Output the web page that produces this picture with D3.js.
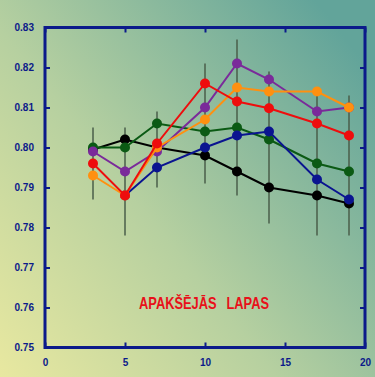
<!DOCTYPE html>
<html><head><meta charset="utf-8">
<script src="https://cdn.jsdelivr.net/npm/d3@7"></script>
<style>
html,body{margin:0;padding:0;overflow:hidden;}
svg{display:block;}
</style></head>
<body>
<script>
const days = [3, 5, 7, 10, 12, 14, 17, 19];
const blackVals  = [0.7995, 0.802, 0.800, 0.798, 0.794, 0.790, 0.788, 0.786];
const greenVals  = [0.800, 0.800, 0.806, 0.804, 0.805, 0.802, 0.796, 0.794];
const blueVals   = [null, 0.788, 0.795, 0.800, 0.803, 0.804, 0.792, 0.787];
const purpleVals = [0.799, 0.794, 0.799, 0.810, 0.821, 0.817, 0.809, 0.810];
const orangeVals = [0.793, 0.788, 0.800, 0.807, 0.815, 0.814, 0.814, 0.810];
const redVals    = [0.796, 0.788, 0.801, 0.816, 0.8115, 0.8098, 0.806, 0.803];
const errLow  = [0.787, 0.778, 0.790, 0.791, 0.788, 0.781, 0.778, 0.778];
const errHigh = [0.805, 0.805, 0.809, 0.821, 0.827, 0.819, 0.815, 0.813];
const xTicks = [0, 5, 10, 15, 20];
const yTicks = [0.75, 0.76, 0.77, 0.78, 0.79, 0.80, 0.81, 0.82, 0.83];
const seriesNames = ["black", "green", "blue", "purple", "orange", "red"];
const seriesColors = ["#000000", "#0b5a14", "#0a1490", "#7a2a9a", "#ff9010", "#ee0d0d"];
const seriesValues = [blackVals, greenVals, blueVals, purpleVals, orangeVals, redVals];
const titleWords = ["APAKŠĒJĀS", "LAPAS"];

(function () {
const W = 375, H = 377;
const m = {l: 45, r: 10, t: 27.5, b: 29.5};
const svg = d3.select("body").append("svg").attr("width", W).attr("height", H);
const defs = svg.append("defs");
const g = defs.append("linearGradient").attr("id", "bg")
  .attr("x1", "0").attr("y1", "1").attr("x2", "1").attr("y2", "0.2");
g.append("stop").attr("offset", "0").attr("stop-color", "#e8e8a0");
g.append("stop").attr("offset", "0.45").attr("stop-color", "#b6d0a0");
g.append("stop").attr("offset", "1").attr("stop-color", "#62a49a");
svg.append("rect").attr("width", W).attr("height", H).attr("fill", "url(#bg)");

const x = d3.scaleLinear().domain([0, 20]).range([m.l, W - m.r]);
const y = d3.scaleLinear().domain([0.75, 0.83]).range([H - m.b, m.t]);

const navy = "#0b1a8a";
// error bars
svg.append("g").selectAll("line").data(days).join("line")
  .attr("x1", d => x(d)).attr("x2", d => x(d))
  .attr("y1", (d, i) => y(errLow[i])).attr("y2", (d, i) => y(errHigh[i]))
  .attr("stroke", "#4a5e4a").attr("stroke-opacity", 0.75).attr("stroke-width", 2);

// axes (inward ticks)
const fmtX = d3.format("d"), fmtY = d3.format(".2f");
const axB = svg.append("g").attr("transform", `translate(0,${H - m.b})`)
  .call(d3.axisBottom(x).tickValues(xTicks).tickSize(-5).tickPadding(11).tickFormat(fmtX));
const axT = svg.append("g").attr("transform", `translate(0,${m.t})`)
  .call(d3.axisTop(x).tickValues(xTicks).tickSize(-5).tickFormat(""));
const axL = svg.append("g").attr("transform", `translate(${m.l},0)`)
  .call(d3.axisLeft(y).tickValues(yTicks).tickSize(-5).tickPadding(11).tickFormat(fmtY));
const axR = svg.append("g").attr("transform", `translate(${W - m.r},0)`)
  .call(d3.axisRight(y).tickValues(yTicks).tickSize(-5).tickFormat(""));
[axB, axT, axL, axR].forEach(a => {
  a.select(".domain").remove();
  a.selectAll(".tick line").attr("stroke", navy).attr("stroke-width", 2);
  a.selectAll("text").attr("fill", navy).attr("font-family", "Liberation Sans, Arial, sans-serif")
   .attr("font-weight", "bold").attr("font-size", 10);
});
svg.append("rect").attr("x", m.l).attr("y", m.t)
  .attr("width", W - m.r - m.l).attr("height", H - m.b - m.t)
  .attr("fill", "none").attr("stroke", navy).attr("stroke-width", 3);

// series
const line = d3.line().defined(d => d[1] != null).x(d => x(d[0])).y(d => y(d[1]));
seriesValues.forEach((vals, si) => {
  const pts = days.map((d, i) => [d, vals[i]]);
  const gg = svg.append("g").attr("class", "series-" + seriesNames[si]);
  gg.append("path").datum(pts).attr("d", line).attr("fill", "none")
    .attr("stroke", seriesColors[si]).attr("stroke-width", 2);
  gg.selectAll("circle").data(pts.filter(p => p[1] != null)).join("circle")
    .attr("cx", p => x(p[0])).attr("cy", p => y(p[1])).attr("r", 5)
    .attr("fill", seriesColors[si]);
});

const tg = svg.append("g").attr("transform", "translate(139,309) scale(0.78,1)");
const tt = tg.append("text").attr("x", 0).attr("y", 0).attr("fill", "#e8101a")
  .attr("font-family", "Liberation Sans, Arial, sans-serif")
  .attr("font-weight", "bold").attr("font-size", 16.5);
tt.append("tspan").text(titleWords[0] + " ");
tt.append("tspan").attr("dx", 8).text(titleWords[1]);
})();
</script>
</body></html>
